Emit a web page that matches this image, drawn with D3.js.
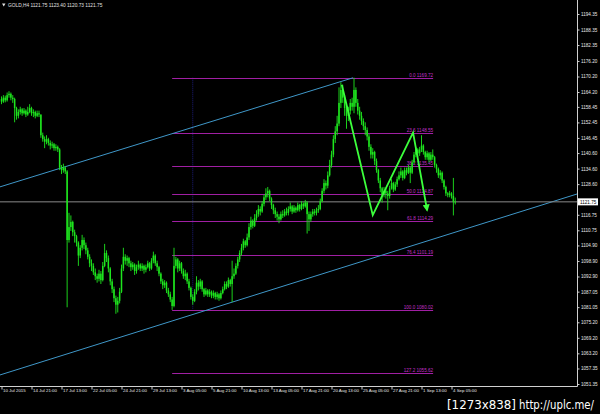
<!DOCTYPE html>
<html><head><meta charset="utf-8">
<script src="https://cdn.jsdelivr.net/npm/d3@7"></script>
<style>html,body{margin:0;padding:0;background:#000;}svg{display:block;}</style>
</head><body><svg id="c" width="600" height="414"></svg>
<script>
// ---- data ----
const symbolTitle = "GOLD,H4 1121.75 1123.40 1120.73 1121.75";
const firstOpen = 1161.5;
const closes = [
1160.5,1162.0,1161.0,1163.0,1163.5,1162.0,1161.5,1158.0,1155.0,1156.5,
1157.5,1156.0,1157.0,1155.5,1156.5,1158.0,1156.0,1156.5,1155.0,1156.0,
1155.5,1147.5,1146.0,1145.0,1146.0,1144.5,1143.5,1144.0,1142.5,1143.0,
1142.0,1135.0,1134.0,1135.0,1133.5,1107.0,1112.0,1114.0,1110.0,1108.5,
1106.0,1101.0,1104.0,1107.0,1105.0,1103.0,1100.5,1098.0,1097.0,1094.5,
1093.0,1092.0,1094.0,1091.5,1097.0,1102.0,1100.0,1096.0,1091.0,1088.0,
1084.5,1082.0,1083.5,1087.0,1096.0,1100.5,1099.0,1100.0,1098.0,1096.5,
1097.5,1095.0,1096.5,1097.5,1096.0,1097.0,1095.5,1096.5,1098.0,1096.0,
1099.0,1101.0,1098.0,1096.5,1094.0,1091.0,1089.5,1090.5,1087.5,1086.0,
1084.0,1081.5,1097.0,1099.5,1096.0,1098.0,1095.0,1093.0,1094.0,1091.0,
1088.5,1085.0,1083.5,1087.0,1090.5,1089.0,1091.0,1088.0,1086.0,1087.5,
1086.0,1087.0,1085.5,1086.5,1085.0,1086.0,1084.5,1086.5,1088.0,1090.0,
1089.0,1091.5,1090.0,1093.0,1094.0,1097.0,1099.5,1102.0,1104.0,1106.5,
1105.0,1108.0,1112.0,1114.5,1112.5,1115.5,1117.0,1119.0,1118.0,1121.0,
1123.5,1125.0,1126.0,1123.0,1120.5,1118.5,1117.0,1116.0,1115.0,1117.0,
1116.5,1118.0,1117.5,1119.0,1120.0,1118.0,1119.5,1118.5,1120.5,1119.0,
1121.0,1120.0,1121.5,1117.0,1115.0,1117.0,1118.0,1117.5,1118.5,1119.0,
1122.0,1126.0,1129.0,1128.0,1132.0,1136.0,1140.0,1146.0,1149.0,1152.0,
1160.0,1165.0,1162.0,1158.0,1155.0,1157.0,1160.0,1158.5,1165.0,1160.0,
1157.0,1155.0,1153.0,1151.0,1149.5,1147.0,1143.0,1140.0,1141.0,1137.5,
1134.0,1130.0,1127.0,1124.5,1126.0,1125.0,1124.0,1127.0,1129.0,1126.5,
1128.5,1130.5,1132.0,1133.5,1131.0,1134.0,1133.0,1135.0,1133.0,1137.0,
1140.0,1142.0,1140.5,1142.0,1143.5,1141.0,1139.0,1140.5,1138.0,1140.0,
1139.0,1136.0,1134.5,1132.0,1133.0,1130.0,1127.5,1125.0,1124.5,1125.0,
1124.0,1121.75,1121.75];
const highs = [
1162.5,1163.0,1162.8,1164.0,1164.5,1164.0,1163.0,1162.0,1158.5,1157.5,
1158.5,1158.0,1158.0,1157.5,1158.5,1159.5,1158.5,1157.5,1157.0,1157.0,
1157.0,1155.5,1148.5,1147.0,1147.5,1146.5,1145.5,1145.0,1144.5,1144.0,
1143.5,1142.5,1136.0,1136.5,1135.5,1134.0,1117.5,1116.5,1114.5,1111.0,
1109.0,1106.5,1105.0,1109.0,1108.0,1106.0,1104.0,1101.5,1099.5,1098.0,
1096.0,1094.0,1095.5,1095.0,1098.5,1105.5,1103.0,1101.0,1096.5,1092.0,
1089.0,1085.5,1085.0,1088.5,1097.5,1104.0,1101.5,1101.0,1100.5,1099.0,
1098.5,1098.0,1097.5,1099.0,1098.0,1098.0,1097.5,1097.5,1099.0,1098.5,
1100.0,1102.5,1101.5,1099.0,1097.0,1094.5,1092.0,1091.5,1091.0,1088.5,
1087.0,1085.0,1104.0,1100.5,1100.0,1099.0,1098.5,1096.0,1095.5,1094.5,
1092.0,1089.0,1086.0,1088.0,1093.0,1091.5,1092.0,1091.5,1088.5,1088.5,
1088.0,1088.0,1087.5,1087.5,1087.0,1087.0,1086.5,1087.5,1089.0,1091.0,
1091.0,1092.5,1092.0,1099.0,1096.0,1098.0,1100.5,1103.0,1105.5,1107.5,
1107.0,1109.5,1113.5,1116.0,1115.0,1117.0,1118.5,1120.5,1120.0,1122.0,
1124.5,1127.0,1127.5,1126.5,1123.5,1121.0,1119.5,1118.0,1117.0,1118.0,
1118.5,1119.0,1119.5,1120.0,1121.5,1120.5,1120.5,1120.0,1121.5,1121.0,
1122.0,1121.5,1122.5,1122.0,1118.0,1118.0,1119.0,1119.0,1119.5,1120.5,
1123.0,1127.0,1130.5,1130.0,1133.5,1138.0,1141.5,1147.5,1151.0,1155.0,
1166.0,1168.0,1167.0,1163.0,1159.0,1158.5,1161.5,1162.0,1169.7,1166.0,
1161.5,1158.5,1156.5,1154.0,1152.5,1150.5,1148.0,1144.0,1142.5,1141.5,
1138.5,1134.5,1131.0,1127.5,1127.5,1127.0,1126.0,1128.0,1130.5,1129.5,
1129.5,1131.5,1133.5,1135.0,1134.0,1135.0,1135.0,1136.0,1135.5,1138.0,
1141.0,1143.0,1142.5,1143.0,1147.5,1144.0,1141.5,1141.5,1141.0,1141.0,
1142.0,1139.5,1136.5,1135.0,1134.0,1133.5,1130.5,1128.0,1125.5,1126.0,
1125.5,1131.0,1123.4];
const lows = [
1159.5,1160.0,1160.2,1160.5,1162.0,1161.0,1160.0,1152.5,1153.5,1154.0,
1155.5,1155.0,1155.5,1154.5,1155.0,1156.0,1155.0,1154.5,1154.0,1154.5,
1154.5,1146.5,1145.0,1142.5,1144.0,1143.5,1142.0,1142.5,1141.5,1141.5,
1141.0,1134.0,1132.5,1133.0,1132.5,1081.0,1106.0,1110.5,1108.5,1106.0,
1104.5,1097.0,1100.0,1103.0,1103.5,1101.5,1099.5,1096.5,1095.0,1093.5,
1091.5,1090.5,1091.0,1090.0,1091.0,1096.5,1098.5,1094.5,1089.5,1086.5,
1083.0,1078.5,1079.0,1082.5,1086.5,1095.0,1097.5,1097.0,1096.5,1095.0,
1095.5,1093.5,1094.0,1095.5,1095.0,1095.0,1094.0,1094.5,1096.0,1095.0,
1095.5,1098.0,1097.0,1095.0,1093.0,1090.0,1088.0,1088.5,1086.5,1085.0,
1083.0,1080.0,1081.0,1096.0,1094.5,1095.0,1094.0,1092.0,1091.5,1090.0,
1087.5,1084.0,1082.0,1083.0,1086.0,1087.5,1088.0,1087.0,1085.0,1085.5,
1085.0,1085.0,1084.5,1084.5,1084.0,1084.0,1083.5,1084.0,1086.0,1087.5,
1088.0,1088.5,1089.0,1083.0,1092.0,1093.5,1096.0,1098.5,1101.0,1103.0,
1104.0,1104.5,1107.0,1111.0,1111.5,1112.0,1114.5,1116.0,1116.5,1117.5,
1120.0,1122.5,1123.5,1122.0,1119.0,1117.0,1115.5,1114.5,1113.5,1114.5,
1115.5,1116.0,1116.5,1116.5,1118.0,1117.0,1117.5,1117.5,1118.0,1118.0,
1118.5,1119.0,1119.5,1109.5,1110.5,1114.0,1116.0,1116.5,1116.5,1117.5,
1118.5,1121.5,1125.0,1126.5,1127.0,1131.5,1135.0,1139.0,1144.5,1147.5,
1151.0,1158.0,1160.0,1155.0,1150.0,1153.0,1155.5,1157.0,1156.0,1158.5,
1155.5,1153.5,1151.5,1149.5,1147.5,1145.5,1141.5,1138.5,1138.5,1136.0,
1133.0,1129.0,1125.5,1121.5,1123.5,1123.0,1118.5,1123.0,1126.5,1125.5,
1126.0,1127.5,1130.0,1131.0,1130.0,1130.5,1132.0,1132.5,1129.0,1132.5,
1136.5,1139.0,1139.0,1139.5,1141.0,1140.0,1138.0,1138.0,1137.0,1137.5,
1138.0,1135.0,1133.0,1131.0,1130.5,1129.0,1126.5,1124.0,1123.5,1123.5,
1123.0,1116.5,1120.73];
const xTickIndex = [0,16,32,48,64,80,96,112,128,144,160,176,192,208,224,240];
const xTickLabels = ["10 Jul 2015","14 Jul 21:00","17 Jul 13:00","22 Jul 05:00","24 Jul 21:00","29 Jul 13:00",
  "3 Aug 05:00","5 Aug 21:00","10 Aug 13:00","13 Aug 05:00","17 Aug 21:00","20 Aug 13:00",
  "25 Aug 05:00","27 Aug 21:00","1 Sep 13:00","4 Sep 05:00"];
const yTickValues = [1194.35,1188.35,1182.35,1176.20,1170.20,1164.20,1158.45,1152.45,1146.45,1140.60,1134.60,1128.60,
  1116.75,1110.75,1104.90,1098.90,1092.90,1087.05,1081.05,1075.20,1069.20,1063.20,1057.35,1051.35];
const currentPrice = 1121.75;
const fibLevels = ["0.0","23.6","38.2","50.0","61.8","76.4","100.0","127.2"];
const fibPrices = [1169.72,1148.55,1135.45,1124.87,1114.29,1101.19,1080.02,1055.62];
const fibStartIndex = 91, fibEndIndex = 230.2, fibBaseIndex = 102;
const zigzagIndex = [181.5,198,219.5,227];
const zigzagPrice = [1167.0,1116.6,1148.5,1118.5];
const upperChannelIndex = [-1,187.5], upperChannelPrice = [1127.5,1169.7];
const lowerChannelIndex = [-1,307], lowerChannelPrice = [1054.8,1124.8];

// ---- drawing ----
const svg = d3.select("#c");
const plotW = 577, plotH = 386;
const x = d3.scaleLinear().domain([0, closes.length-1]).range([1.5, 1.5 + 1.875*(closes.length-1)]);
const y = d3.scaleLinear().domain([1051.35, 1194.35]).range([384, 14]);

svg.append("rect").attr("width",600).attr("height",414).attr("fill","#000");
svg.append("defs").append("clipPath").attr("id","clip").append("rect").attr("x",0).attr("y",0).attr("width",plotW).attr("height",plotH);
const plot = svg.append("g").attr("clip-path","url(#clip)");

// fib base vertical dotted line
plot.append("line").attr("x1",x(fibBaseIndex)).attr("x2",x(fibBaseIndex))
  .attr("y1",y(fibPrices[0])).attr("y2",y(fibPrices[6]))
  .attr("stroke","#1c1c78").attr("stroke-width",1).attr("stroke-dasharray","1,1");

// fib levels
const fibG = plot.append("g");
fibPrices.forEach((p,k)=>{
  fibG.append("line").attr("x1",x(fibStartIndex)).attr("x2",x(fibEndIndex))
    .attr("y1",Math.round(y(p))+0.5).attr("y2",Math.round(y(p))+0.5)
    .attr("stroke","#a01fa3").attr("stroke-width",1);
  fibG.append("text").attr("x",x(fibEndIndex)).attr("y",Math.round(y(p))-1)
    .attr("text-anchor","end").attr("fill","#c030c8")
    .attr("font-family","Liberation Sans, Arial, sans-serif").attr("font-size",4.6)
    .text(fibLevels[k]+" "+fibPrices[k].toFixed(2));
});

// channel lines
const chan = d3.line().x(d=>x(d[0])).y(d=>y(d[1]));
plot.append("path").attr("d",chan(upperChannelIndex.map((v,k)=>[v,upperChannelPrice[k]])))
  .attr("fill","none").attr("stroke","#3f97c8").attr("stroke-width",1);
plot.append("path").attr("d",chan(lowerChannelIndex.map((v,k)=>[v,lowerChannelPrice[k]])))
  .attr("fill","none").attr("stroke","#3f97c8").attr("stroke-width",1);

// current price line
plot.append("line").attr("x1",0).attr("x2",plotW)
  .attr("y1",y(currentPrice)).attr("y2",y(currentPrice))
  .attr("stroke","#8a8a8a").attr("stroke-width",1);

// candles
const cg = plot.append("g");
closes.forEach((c,i)=>{
  const o = i===0 ? firstOpen : closes[i-1];
  const cx = x(i);
  cg.append("line").attr("x1",cx).attr("x2",cx).attr("y1",y(highs[i])).attr("y2",y(lows[i]))
    .attr("stroke","#1ee61e").attr("stroke-width",0.9);
  const top = y(Math.max(o,c)), bot = y(Math.min(o,c));
  cg.append("rect").attr("x",cx-0.75).attr("y",top).attr("width",1.5).attr("height",Math.max(0.6,bot-top))
    .attr("fill","#1ee61e");
});

// zigzag with arrow
svg.append("defs").append("marker").attr("id","arr").attr("viewBox","0 0 10 10")
  .attr("refX",8).attr("refY",5).attr("markerWidth",4).attr("markerHeight",4).attr("orient","auto")
  .append("path").attr("d","M0,0 L10,5 L0,10 z").attr("fill","#3cff3c");
plot.append("path").attr("d",d3.line().x(d=>x(d[0])).y(d=>y(d[1]))(zigzagIndex.map((v,k)=>[v,zigzagPrice[k]])))
  .attr("fill","none").attr("stroke","#3cff3c").attr("stroke-width",1.8).attr("marker-end","url(#arr)");

// axes
const font = "Liberation Sans, Arial, sans-serif";
svg.append("line").attr("x1",plotW+0.5).attr("x2",plotW+0.5).attr("y1",0).attr("y2",plotH+0.5).attr("stroke","#d0d0d0");
svg.append("line").attr("x1",0).attr("x2",plotW+0.5).attr("y1",plotH+0.5).attr("y2",plotH+0.5).attr("stroke","#d0d0d0");

const ya = svg.append("g").attr("transform",`translate(${plotW+0.5},0)`)
  .call(d3.axisRight(y).tickValues(yTickValues).tickFormat(d=>d.toFixed(2)).tickSize(2).tickPadding(1.5));
ya.select(".domain").remove();
ya.selectAll("line").attr("stroke","#d0d0d0");
ya.selectAll("text").attr("fill","#e8e8e8").attr("font-size",4.6).attr("font-family",font);

const xa = svg.append("g").attr("transform",`translate(0,${plotH+0.5})`)
  .call(d3.axisBottom(x).tickValues(xTickIndex).tickFormat((d,k)=>xTickLabels[k]).tickSize(3));
xa.select(".domain").remove();
xa.selectAll("line").attr("stroke","#d0d0d0");
xa.selectAll("text").attr("fill","#e8e8e8").attr("font-size",4.4).attr("font-family",font)
  .attr("text-anchor","start").attr("dx",1).attr("y",2).attr("dy","0.75em");

// current price box
const cpy = y(currentPrice);
svg.append("rect").attr("x",plotW+1).attr("y",cpy-3.5).attr("width",20).attr("height",7).attr("fill","#ffffff");
svg.append("text").attr("x",plotW+3).attr("y",cpy+1.7).attr("fill","#000").attr("font-size",4.6)
  .attr("font-family",font).text(currentPrice.toFixed(2));

// title
svg.append("path").attr("d","M2,3.5 L5.5,3.5 L3.75,6.5 Z").attr("fill","#e0e0e0");
svg.append("text").attr("x",8).attr("y",7.3).attr("fill","#e0e0e0").attr("font-size",4.8)
  .attr("font-family",font).text(symbolTitle);

// watermark
svg.append("text").attr("x",447).attr("y",409).attr("fill","#fff").attr("font-size",12)
  .attr("font-family","DejaVu Sans, sans-serif").attr("textLength",69).attr("lengthAdjust","spacingAndGlyphs").text("[1273x838]");
svg.append("text").attr("x",519).attr("y",409).attr("fill","#fff").attr("font-size",12)
  .attr("font-family","DejaVu Sans Condensed, DejaVu Sans, sans-serif")
  .attr("textLength",75).attr("lengthAdjust","spacingAndGlyphs").text("http://uplc.me/");
</script></body></html>
